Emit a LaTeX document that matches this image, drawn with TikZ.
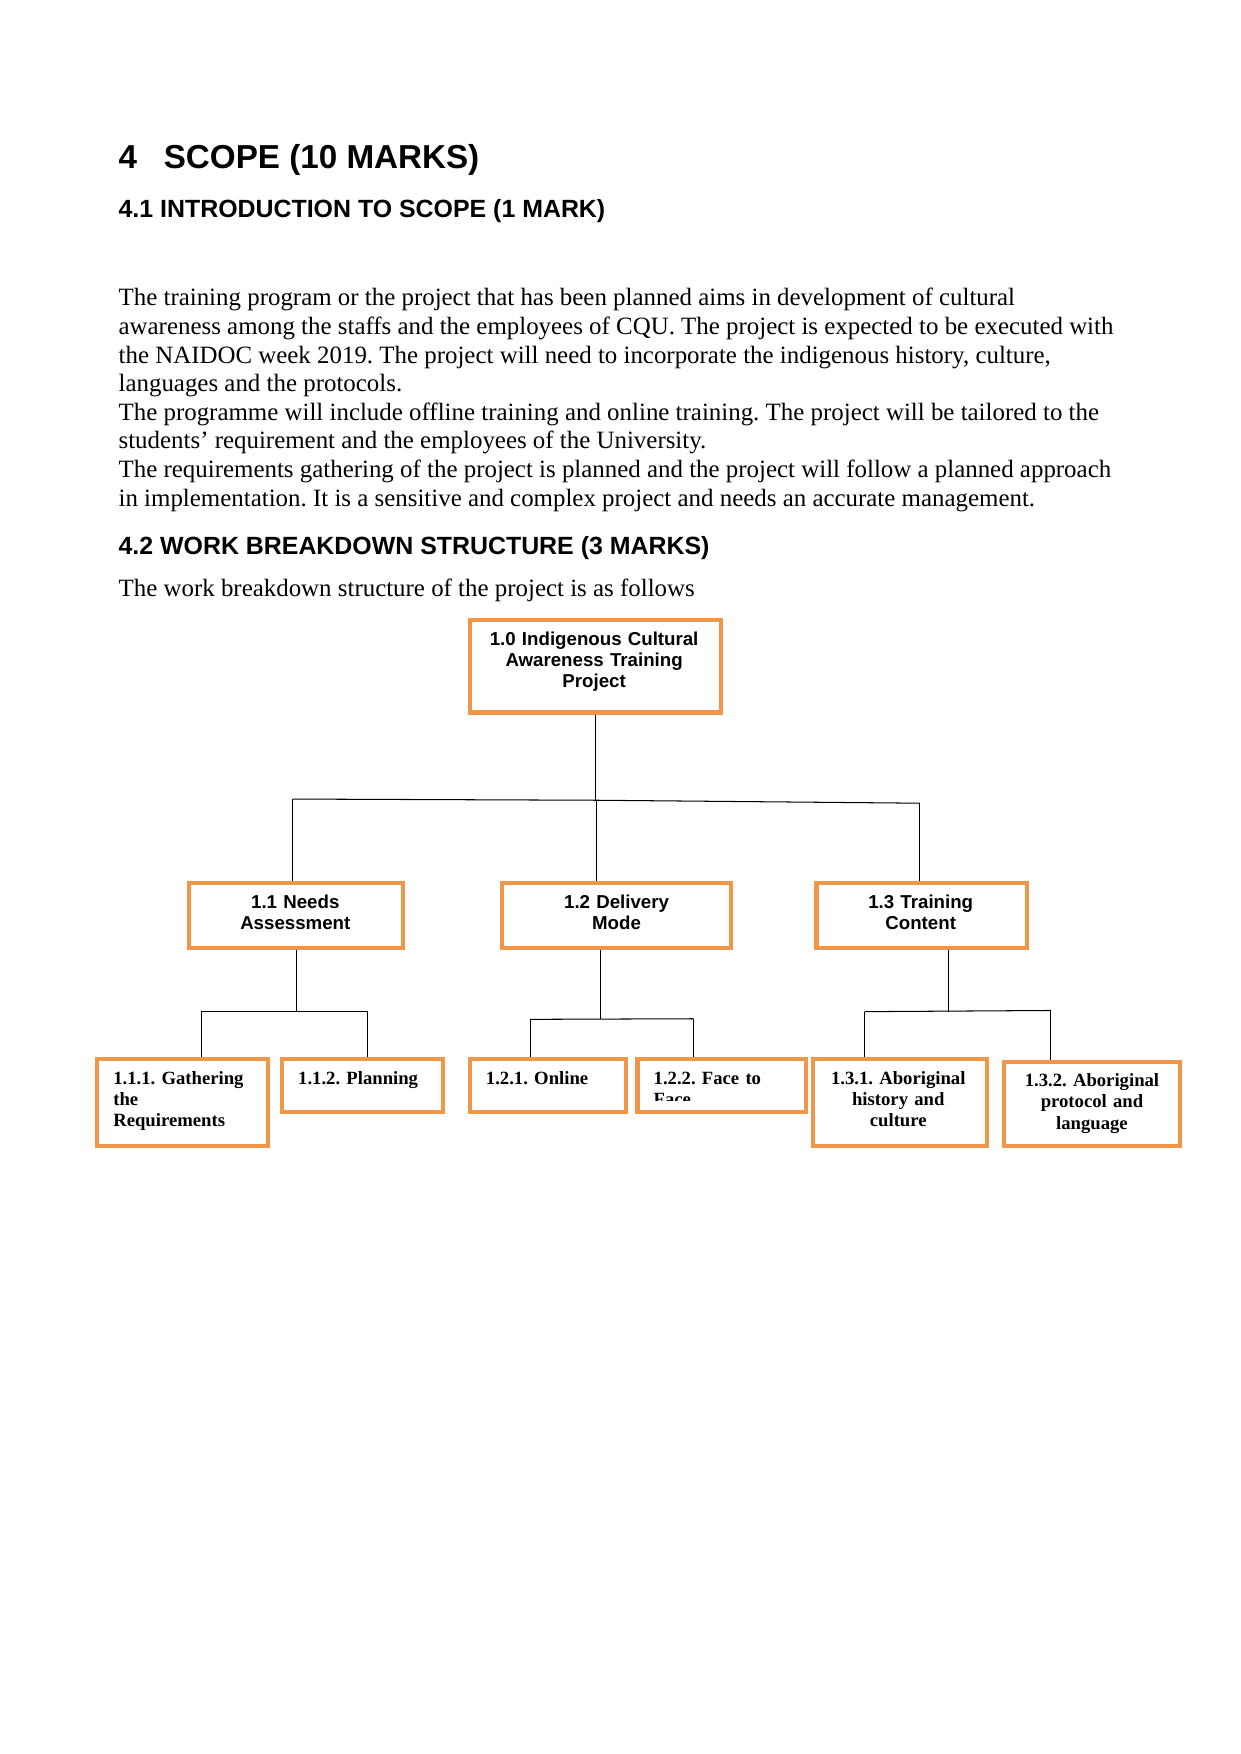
\documentclass[tikz,border=0pt]{standalone}
\usepackage{fontspec}
\setmainfont{Liberation Serif}
\setsansfont{Liberation Sans}
\definecolor{wbsorange}{RGB}{240,150,72}
\frenchspacing

\begin{document}
\begin{tikzpicture}[x=1mm,y=-1mm,line width=.5pt,
  hone/.style={font=\sffamily\bfseries\fontsize{16pt}{19pt}\selectfont,anchor=base west,inner sep=0pt},
  htwo/.style={font=\sffamily\bfseries\fontsize{12pt}{14pt}\selectfont,anchor=base west,inner sep=0pt},
  body/.style={font=\fontsize{12pt}{13.8pt}\selectfont,anchor=base west,inner sep=0pt},
  wbsbox/.style={draw=wbsorange,line width=2pt,anchor=north west,inner sep=0pt},
  toptext/.style={font=\sffamily\bfseries\fontsize{9pt}{10.2pt}\selectfont,text width=40mm,align=center,anchor=base,inner sep=0pt},
  leafl/.style={font=\bfseries\fontsize{9pt}{10.2pt}\selectfont,text width=30mm,align=left,anchor=base west,inner sep=0pt},
  leafc/.style={font=\bfseries\fontsize{9pt}{10.2pt}\selectfont,text width=30mm,align=center,anchor=base,inner sep=0pt}]
\path[fill=white] (0,0) rectangle (210,297);
\useasboundingbox (0,0) rectangle (210,297);
% headings and text
\node[hone] (hnum) at (20,28.5) {4};
\node[hone] (htitle) at (27.65,28.5) {SCOPE (10 MARKS)};
\node[htwo] (hintro) at (20,36.75) {4.1 INTRODUCTION TO SCOPE (1 MARK)};
\foreach \txt [count=\i] in {
 {The training program or the project that has been planned aims in development of cultural},
 {awareness among the staffs and the employees of CQU. The project is expected to be executed with},
 {the NAIDOC week 2019. The project will need to incorporate the indigenous history, culture,},
 {languages and the protocols.},
 {The programme will include offline training and online training. The project will be tailored to the},
 {students’ requirement and the employees of the University.},
 {The requirements gathering of the project is planned and the project will follow a planned approach},
 {in implementation. It is a sensitive and complex project and needs an accurate management.}} {
 \node[body] (p\i) at (20,{51.8+4.843*(\i-1)}) {\txt};
}
\node[htwo] (hwbs) at (20,93.95) {4.2 WORK BREAKDOWN STRUCTURE (3 MARKS)};
\node[body] (pwbs) at (20,100.96) {The work breakdown structure of the project is as follows};
% boxes
\node[wbsbox,minimum width=42.5mm,minimum height=15.7mm] (root) at (79.2,104.6) {};
\node[wbsbox,minimum width=36.3mm,minimum height=11.0mm] (n11) at (31.6,149.1) {};
\node[wbsbox,minimum width=38.7mm,minimum height=11.0mm] (n12) at (84.7,149.1) {};
\node[wbsbox,minimum width=35.7mm,minimum height=11.0mm] (n13) at (137.9,149.1) {};
\node[wbsbox,minimum width=28.9mm,minimum height=14.7mm] (n111) at (16.1,179.0) {};
\node[wbsbox,minimum width=27.35mm,minimum height=9.0mm] (n112) at (47.35,179.0) {};
\node[wbsbox,minimum width=26.4mm,minimum height=9.0mm] (n121) at (79.2,179.0) {};
\node[wbsbox,minimum width=28.5mm,minimum height=9.0mm] (n122) at (107.6,179.0) {};
\node[wbsbox,minimum width=29.5mm,minimum height=14.7mm] (n131) at (137.3,179.0) {};
\node[wbsbox,minimum width=29.8mm,minimum height=14.3mm] (n132) at (169.7,179.4) {};
% labels
\node[toptext] (lroot) at (100.6,109.3) {1.0 Indigenous Cultural\\Awareness Training\\Project};
\node[toptext] (l11) at (50.0,153.8) {1.1 Needs\\Assessment};
\node[toptext] (l12) at (104.4,153.8) {1.2 Delivery\\Mode};
\node[toptext] (l13) at (155.9,153.8) {1.3 Training\\Content};
\node[leafl] (l111) at (19.1,183.6) {1.1.1. Gathering\\the\\Requirements};
\node[leafl] (l112) at (50.4,183.6) {1.1.2. Planning};
\node[leafl] (l121) at (82.2,183.6) {1.2.1. Online};
\coordinate (cut) at (0,186.4);
\begin{scope}
 \clip (n122.north west) rectangle (n122.east |- cut);
 \node[leafl] (l122) at (110.6,183.6) {1.2.2. Face to\\Face};
\end{scope}
\node[leafc] (l131) at (152.1,183.6) {1.3.1. Aboriginal\\history and\\culture};
\node[leafc] (l132) at (184.9,184.0) {1.3.2. Aboriginal\\protocol and\\language};
% connectors
\coordinate (t11) at (49.6,135.3); \coordinate (t12) at (100.95,135.5); \coordinate (t13) at (155.7,136.0);
\coordinate (t111) at (34.1,171.2); \coordinate (t112) at (62.3,171.2);
\coordinate (t121) at (89.8,172.6); \coordinate (t122) at (117.4,172.5);
\coordinate (t131) at (146.4,171.3); \coordinate (t132) at (177.9,171.1);
\coordinate (b11) at (50.2,0); \coordinate (b12) at (101.7,0); \coordinate (b13) at (160.6,0);
\draw (root.south) -- (root.south |- t12);
\draw (t11) -- (t12) -- (t13);
\foreach \k in {11,12,13} \draw (t\k) -- (t\k |- n\k.north);
\foreach \p/\a/\b in {11/111/112,12/121/122,13/131/132} {
 \draw (t\a) -- (t\b);
 \draw (b\p |- n\p.south) -- (b\p |- t\a);
 \draw (t\a) -- (t\a |- n\a.north); \draw (t\b) -- (t\b |- n\b.north);
}
\end{tikzpicture}
\end{document}
